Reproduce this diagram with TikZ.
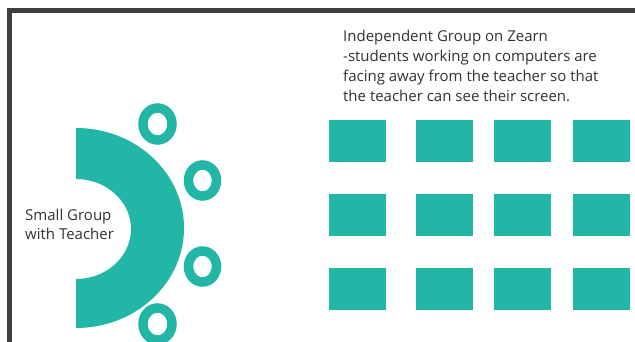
\documentclass[tikz,border=0pt]{standalone}
\usepackage{fontspec}
\setmainfont{Open Sans}
\usetikzlibrary{positioning}

\definecolor{deskteal}{RGB}{33,182,165}
\definecolor{framegray}{RGB}{64,64,64}
\definecolor{textgray}{RGB}{50,50,50}

\begin{document}
\begin{tikzpicture}[
    x=1pt, y=-1pt,
    desk/.style={fill=deskteal, draw=none, minimum width=57pt, minimum height=41.5pt, inner sep=0pt}, % Computer desks
    seat/.style={draw=deskteal, line width=9.5pt}, % Student seats round the teacher table
    label text/.style={text=textgray, inner sep=0pt, align=left}
]

    % === Canvas ===
    \useasboundingbox (0,0) rectangle (635,342);
    \clip (0,0) rectangle (635,342);
    \fill[white] (0,0) rectangle (635,342);

    % === Frame ===
    \fill[framegray] (7,8) rectangle (12,342);
    \fill[framegray] (7,8) rectangle (635,13);

    % ====== SMALL GROUP WITH TEACHER ======
    \coordinate (table_center) at (76,229);

    % Half ring table
    \fill[deskteal] (76,128) arc[start angle=-90, end angle=90, x radius=108, y radius=100]
        -- (76,279) arc[start angle=90, end angle=-90, x radius=55, y radius=50] -- cycle;

    % Seats
    \draw[seat] (157.5,124) ellipse[x radius=14.5, y radius=16];
    \draw[seat] (202.5,180.5) ellipse[x radius=14, y radius=15.5];
    \draw[seat] (202.5,266.5) ellipse[x radius=14, y radius=15.5];
    \draw[seat] (157.5,324) ellipse[x radius=14.5, y radius=16];

    \node[label text, anchor=base west, font=\fontsize{15}{19}\selectfont] (group_label) at (25,239.3)
        {Small Group\\with Teacher};

    % ====== INDEPENDENT GROUP ======
    \node[label text, anchor=base west, font=\fontsize{15}{20}\selectfont] (zearn_label) at (343,101.7)
        {Independent Group on Zearn\\-students working on computers are\\facing away from the teacher so that\\the teacher can see their screen.};

    % Row 1
    \node[desk] (desk_a1) at (357.7,141) {};
    \node[desk] (desk_a2) at (444.3,141) {};
    \node[desk] (desk_a3) at (522.7,141) {};
    \node[desk] (desk_a4) at (601,141) {};

    % Row 2
    \node[desk] (desk_b1) at (357.7,215) {};
    \node[desk] (desk_b2) at (444.3,215) {};
    \node[desk] (desk_b3) at (522.7,215) {};
    \node[desk] (desk_b4) at (601,215) {};

    % Row 3
    \node[desk] (desk_c1) at (357.7,289) {};
    \node[desk] (desk_c2) at (444.3,289) {};
    \node[desk] (desk_c3) at (522.7,289) {};
    \node[desk] (desk_c4) at (601,289) {};

\end{tikzpicture}
\end{document}
